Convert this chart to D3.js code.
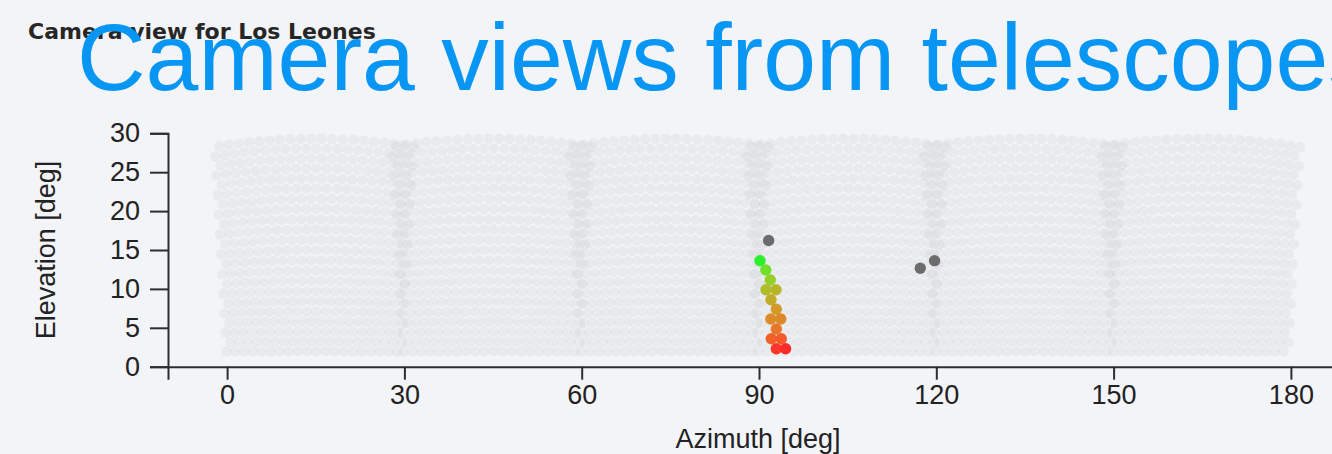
<!DOCTYPE html>
<html>
<head>
<meta charset="utf-8">
<script src="https://cdn.jsdelivr.net/npm/d3@7"></script>
<style>
  html, body { margin: 0; padding: 0; background: #f3f4f8; }
  svg { display: block; }
  .axis .domain, .axis line { stroke: #2e2e2e; stroke-width: 2; }
  .axis text { fill: #222; font-family: "Liberation Sans", Arial, Helvetica, sans-serif; font-size: 27px; }
</style>
</head>
<body>
<svg id="chart" width="1332" height="454"></svg>
<script>
// Fluorescence-detector cameras at the site: pointing azimuth of each camera axis [deg]
const cameraAzimuths = [14.7, 44.7, 74.7, 104.7, 134.7, 164.7];
const cameraElevation = 15.65;    // camera axis elevation [deg]
const cameraHalfHeight = 13.65;   // angle from axis to top / bottom pixel row [deg]
const pixelRows = 22;
const pixelCols = 20;

// Triggered pixels with timing (azimuth, elevation in deg; time in 100 ns bins)
const hitAzimuth   = [90.17, 91.15, 91.91, 91.19, 92.88, 92.03, 92.93, 92.00, 93.69, 92.93, 92.08, 93.77, 92.93, 94.50];
const hitElevation = [13.63, 12.43, 11.15,  9.90,  9.90,  8.61,  7.38,  6.13,  6.13,  4.85,  3.60,  3.60,  2.31,  2.31];
const hitTime      = [0, 12, 25, 36, 40, 48, 58, 66, 68, 76, 86, 88, 98, 100];

// Triggered pixels outside the shower track
const noiseAzimuth   = [91.63, 117.29, 119.71];
const noiseElevation = [16.23, 12.65, 13.63];

const xTicks = [0, 30, 60, 90, 120, 150, 180];
const yTicks = [0, 5, 10, 15, 20, 25, 30];

const svg = d3.select("#chart");

const x = d3.scaleLinear().domain([-10, 190]).range([168, 1350]);
const y = d3.scaleLinear().domain([0, 30]).range([366.7, 133.3]);

// Pixel directions of one camera: hexagonal grid on the focal plane,
// projected onto azimuth / elevation.
const rad = Math.PI / 180;
const qMax = Math.tan(cameraHalfHeight * rad);
const dq = 2 * qMax / (pixelRows - 1);
const dp = 0.02786;
function cameraPixels(az0) {
  const e0 = cameraElevation * rad;
  const out = [];
  for (let r = 0; r < pixelRows; r++) {
    const q = -qMax + r * dq;
    for (let j = 0; j < pixelCols; j++) {
      const p = (j - (pixelCols - 1) / 2 + (r % 2 ? 0.25 : -0.25)) * dp;
      const n = Math.hypot(1, p, q);
      const el = Math.asin((Math.sin(e0) + Math.cos(e0) * q) / n) / rad;
      const az = az0 + Math.atan2(p, Math.cos(e0) - Math.sin(e0) * q) / rad;
      out.push({ az, el });
    }
  }
  return out;
}
const pixels = cameraAzimuths.flatMap(cameraPixels);

// camera pixels
svg.append("g")
  .selectAll("circle")
  .data(pixels)
  .join("circle")
  .attr("cx", d => x(d.az))
  .attr("cy", d => y(d.el))
  .attr("r", 5.2)
  .attr("fill", "#cacccc")
  .attr("fill-opacity", 0.25);

// noise pixels
svg.append("g")
  .selectAll("circle")
  .data(noiseAzimuth.map((a, i) => ({ az: a, el: noiseElevation[i] })))
  .join("circle")
  .attr("cx", d => x(d.az))
  .attr("cy", d => y(d.el))
  .attr("r", 5.7)
  .attr("fill", "#6c6c6c");

// shower track coloured by pulse time
const color = d3.scaleLinear()
  .domain(d3.extent(hitTime))
  .range(["#2cf02c", "#ff2a2a"])
  .interpolate(d3.interpolateLab);

svg.append("g")
  .selectAll("circle")
  .data(hitAzimuth.map((a, i) => ({ az: a, el: hitElevation[i], t: hitTime[i] })))
  .join("circle")
  .attr("cx", d => x(d.az))
  .attr("cy", d => y(d.el))
  .attr("r", 5.7)
  .attr("fill", d => color(d.t));

// axes
svg.append("g")
  .attr("class", "axis")
  .attr("transform", `translate(0,${y(0)})`)
  .call(d3.axisBottom(x).tickValues(xTicks).tickSize(13).tickPadding(5).tickSizeOuter(13));

svg.append("g")
  .attr("class", "axis")
  .attr("transform", `translate(${x(-10)},0)`)
  .call(d3.axisLeft(y).tickValues(yTicks).tickSize(18).tickPadding(10));

svg.append("text")
  .attr("x", 758)
  .attr("y", 448)
  .attr("text-anchor", "middle")
  .attr("font-family", "Liberation Sans, Arial, sans-serif")
  .attr("font-size", 27)
  .attr("fill", "#222")
  .text("Azimuth [deg]");

svg.append("text")
  .attr("transform", `translate(55,${(y(0) + y(30)) / 2}) rotate(-90)`)
  .attr("text-anchor", "middle")
  .attr("font-family", "Liberation Sans, Arial, sans-serif")
  .attr("font-size", 27)
  .attr("fill", "#222")
  .text("Elevation [deg]");

// titles
svg.append("text")
  .attr("x", 28)
  .attr("y", 39)
  .attr("font-family", "DejaVu Sans, sans-serif")
  .attr("font-weight", "bold")
  .attr("font-size", 22)
  .attr("fill", "#262626")
  .text("Camera view for Los Leones");

svg.append("text")
  .attr("x", 77)
  .attr("y", 90)
  .attr("font-family", "Liberation Sans, Arial, sans-serif")
  .attr("font-size", 95)
  .attr("fill", "#0796f3")
  .text("Camera views from telescopes");
</script>
</body>
</html>
